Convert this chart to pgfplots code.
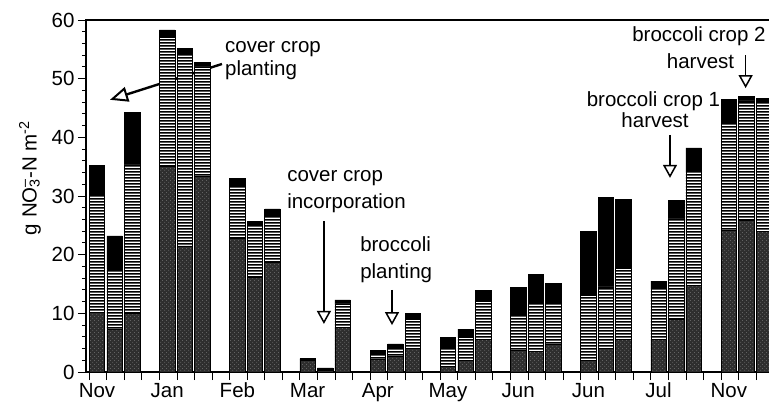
\documentclass[border=0pt]{standalone}
\usepackage{fontspec}
\setmainfont{Liberation Sans}
\usepackage{pgfplots}
\pgfplotsset{compat=1.18}
\usepackage{pgfplotstable}
\usetikzlibrary{patterns,arrows.meta}

\pgfdeclarepatternformonly{hlines}{\pgfpoint{0pt}{0pt}}{\pgfpoint{30pt}{3pt}}{\pgfpoint{30pt}{3pt}}{%
  \pgfpathrectangle{\pgfpoint{-1pt}{0.6pt}}{\pgfpoint{32pt}{1.8pt}}%
  \pgfusepath{fill}%
}
\pgfdeclarepatternformonly{speck}{\pgfpoint{0pt}{0pt}}{\pgfpoint{4pt}{4pt}}{\pgfpoint{4pt}{4pt}}{%
  \pgfpathcircle{\pgfpoint{1pt}{1pt}}{0.45pt}%
  \pgfpathcircle{\pgfpoint{3pt}{3pt}}{0.45pt}%
  \pgfusepath{fill}%
}

\pgfplotstableread{
x a b c
0 10.1 20.0 5.1
1 7.2 10.3 5.7
2 10.0 25.3 8.9
4 35.1 22.0 1.2
5 21.5 32.6 1.1
6 33.3 18.7 0.8
8 22.8 8.8 1.4
9 16.1 8.9 0.7
10 18.7 7.8 1.3
12 2.0 0.0 0.3
13 0.3 0.0 0.4
14 7.6 4.0 0.7
16 2.2 1.0 0.5
17 2.6 1.4 0.8
18 4.0 4.9 1.1
20 0.9 3.3 1.7
21 2.0 3.9 1.4
22 5.5 6.5 1.9
24 3.7 6.0 4.7
25 3.5 8.4 4.8
26 4.7 7.2 3.2
28 2.0 11.1 10.9
29 4.0 10.5 15.3
30 5.5 12.2 11.7
32 5.5 8.8 1.2
33 9.0 17.1 3.2
34 14.8 19.5 3.9
36 24.2 18.4 3.9
37 25.9 20.3 0.8
38 23.9 22.1 0.7
}\data

\newcommand\fs{\fontsize{20.5}{24}\selectfont}

\begin{document}
\begin{tikzpicture}[font=\fs]
\begin{axis}[
  scale only axis, width=690pt, height=352pt,
  xmin=-0.627, xmax=38.69, ymin=0, ymax=60,
  ybar stacked, bar width=0.88,
  clip=false,
  axis line style={line width=1.1pt},
  tick align=outside,
  xtick pos=left, ytick pos=left,
  major tick length=8pt, minor tick length=4pt,
  tick style={line width=0.9pt, black},
  xtick={-0.44,0.56,...,38.56},
  xticklabels={},
  extra x ticks={0,4,...,36},
  extra x tick labels={Nov,Jan,Feb,Mar,Apr,May,Jun,Jun,Jul,Nov},
  extra x tick style={major tick length=0pt, tick label style={yshift=-7pt, text height=15pt, text depth=4pt}},
  ytick={0,10,...,60},
  minor y tick num=4,
  tick label style={font=\fs},
  /pgf/number format/assume math mode=true,
  ylabel={g NO\textsubscript{3}\llap{\textsuperscript{--}}-N m\textsuperscript{-2}},
  every axis y label/.style={at={(rel axis cs:-0.0812,0.551)}, rotate=90, anchor=center, font=\fs},
]
\addplot[fill=black!82, draw=black, line width=0.6pt, postaction={pattern=speck, pattern color=black!45}] table[x=x,y=a]{\data};
\addplot[fill=white, draw=black, line width=0.6pt, postaction={pattern=hlines, pattern color=black}] table[x=x,y=b]{\data};
\addplot[fill=black, draw=black, line width=0.6pt] table[x=x,y=c]{\data};

\coordinate (O) at (rel axis cs:0,0);

% annotations
\node[anchor=base west, inner sep=0pt] at (axis cs:7.29,54.5) {cover crop};
\node[anchor=base west, inner sep=0pt] at (axis cs:7.29,50.5) {planting};
\draw[line width=2.4pt, -{Triangle[open, length=18pt, width=15pt, line width=2pt]}] (axis cs:7.12,52.5) -- (axis cs:0.74,46.4);

\node[anchor=base west, inner sep=0pt] at (axis cs:10.83,32.4) {cover crop};
\node[anchor=base west, inner sep=0pt] at (axis cs:10.83,27.95) {incorporation};
\draw[line width=1.3pt, -{Triangle[open, length=13pt, width=14pt, line width=1.5pt]}] (axis cs:12.93,25.7) -- (axis cs:12.93,8.2);

\node[anchor=base west, inner sep=0pt] at (axis cs:14.99,20.5) {broccoli};
\node[anchor=base west, inner sep=0pt] at (axis cs:14.99,16.0) {planting};
\draw[line width=1.3pt, -{Triangle[open, length=13pt, width=14pt, line width=1.5pt]}] (axis cs:16.81,14.0) -- (axis cs:16.81,8.0);

\node[anchor=base, inner sep=0pt] at (axis cs:31.71,45.2) {broccoli crop 1};
\node[anchor=base, inner sep=0pt] at (axis cs:31.8,41.6) {harvest};
\draw[line width=1.3pt, -{Triangle[open, length=13pt, width=14pt, line width=1.5pt]}] (axis cs:32.65,40.4) -- (axis cs:32.65,33.1);

\node[anchor=base, inner sep=0pt] at (axis cs:34.3,56.3) {broccoli crop 2};
\node[anchor=base, inner sep=0pt] at (axis cs:34.39,51.8) {harvest};
\draw[line width=1.3pt, -{Triangle[open, length=13pt, width=14pt, line width=1.5pt]}] (axis cs:36.96,54.0) -- (axis cs:36.96,48.4);
\end{axis}
\pgfresetboundingbox
\path[use as bounding box] ([shift={(-86pt,-35pt)}]O) rectangle ([shift={(683pt,372pt)}]O);
\end{tikzpicture}
\end{document}
